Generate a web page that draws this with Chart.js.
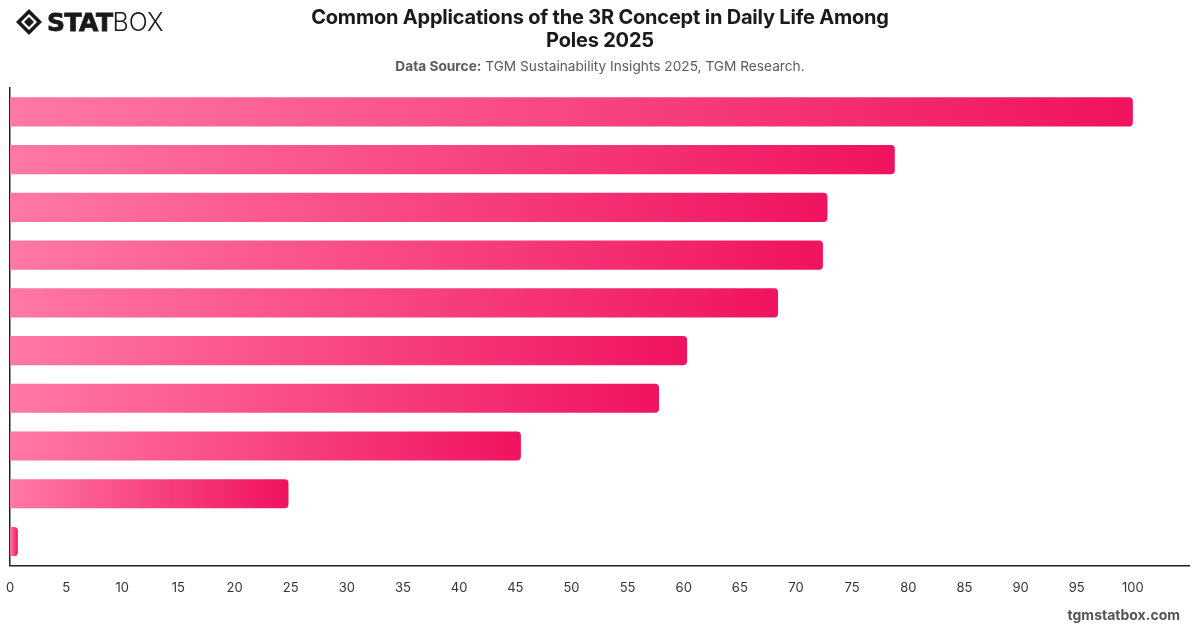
<!DOCTYPE html>
<html>
<head>
<meta charset="utf-8">
<script src="https://cdn.jsdelivr.net/npm/chart.js@4.4.1/dist/chart.umd.min.js"></script>
<style>
  html, body { margin:0; padding:0; background:#fff; }
  #wrap { position:relative; width:1200px; height:628px; overflow:hidden; font-family:"Inter","Liberation Sans",sans-serif; }
  #c { position:absolute; left:0; top:0; }
  .title { position:absolute; left:250px; width:700px; top:6px; text-align:center; font-weight:700; font-size:20px; line-height:23px; color:#1a1a1a; letter-spacing:-0.2px; }
  .sub { position:absolute; left:0; width:1200px; top:58px; text-align:center; font-size:13.7px; color:#5a5a66; }
  .sub b { font-weight:700; }
  .logo { position:absolute; left:15px; top:8px; height:28px; display:flex; align-items:center; }
  .logo .s { font-family:"DejaVu Sans","Inter",sans-serif; font-weight:900; font-size:25px; color:#1a1a1a; letter-spacing:-0.5px; margin-left:4px; -webkit-text-stroke:0.8px #1a1a1a; }
  .logo .b { font-family:"Inter","Liberation Sans",sans-serif; font-weight:300; font-size:25px; color:#1a1a1a; letter-spacing:0px; }
  .foot { position:absolute; right:20px; top:606px; font-size:14px; font-weight:700; color:#555; }
</style>
</head>
<body>
<div id="wrap">
  <canvas id="c" width="1200" height="628"></canvas>
  <div class="logo">
    <svg width="28" height="28" viewBox="0 0 28 28">
      <polygon points="14,1 27,14 14,27 1,14" fill="#1a1a1a"/>
      <polygon points="14,6 22,14 14,22 6,14" fill="#fff"/>
      <polygon points="14,9 19,14 14,19 9,14" fill="#1a1a1a"/>
    </svg>
    <span class="s">STAT</span><span class="b">BOX</span>
  </div>
  <div class="title">Common Applications of the 3R Concept in Daily Life Among<br>Poles 2025</div>
  <div class="sub"><b>Data Source:</b> TGM Sustainability Insights 2025, TGM Research.</div>
  <div class="foot">tgmstatbox.com</div>
</div>
<script>
const categories = [
  "Segregating waste",
  "Reusing shopping bags",
  "Buying products in larger packages",
  "Repairing items instead of replacing",
  "Donating unused items",
  "Buying second-hand products",
  "Reducing food waste",
  "Using refillable containers",
  "Composting organic waste",
  "Other"
];
const values = [100, 78.8, 72.8, 72.4, 68.4, 60.3, 57.8, 45.5, 24.8, 0.7];
const tickLabels = [0,5,10,15,20,25,30,35,40,45,50,55,60,65,70,75,80,85,90,95,100];

function barGradient(ctx) {
  const chart = ctx.chart;
  const area = chart.chartArea;
  if (!area || ctx.raw === undefined) return '#f71a64';
  const xEnd = chart.scales.x.getPixelForValue(ctx.raw);
  const g = chart.ctx.createLinearGradient(area.left, 0, Math.max(xEnd, area.left + 1), 0);
  g.addColorStop(0, '#ff78a5');
  g.addColorStop(1, '#f0135f');
  return g;
}

new Chart(document.getElementById('c'), {
  type: 'bar',
  data: {
    labels: categories,
    datasets: [{
      data: values,
      backgroundColor: barGradient,
      borderRadius: { topRight: 4, bottomRight: 4, topLeft: 0, bottomLeft: 0 },
      borderSkipped: 'start',
      categoryPercentage: 0.61,
      barPercentage: 1.0
    }]
  },
  options: {
    indexAxis: 'y',
    responsive: false,
    animation: false,
    devicePixelRatio: 1,
    layout: { padding: { left: 10, right: 11, top: 88, bottom: 17 } },
    plugins: { legend: { display: false }, tooltip: { enabled: false }, title: { display: false } },
    scales: {
      x: {
        min: 0, max: 105,
        afterBuildTicks: (s) => { s.ticks = tickLabels.map(v => ({ value: v })); },
        afterFit: (s) => { s.paddingLeft = 0; s.paddingRight = 0; },
        grid: { display: false, drawTicks: false },
        border: { display: true, color: '#222', width: 1.5 },
        ticks: { padding: 15, color: '#333', font: { family: 'Inter', size: 13 }, autoSkip: false, maxRotation: 0 }
      },
      y: {
        afterFit: (s) => { s.width = 0; },
        grid: { display: false, drawTicks: false },
        border: { display: true, color: '#222', width: 1.5 },
        ticks: { display: false }
      }
    }
  }
});
</script>
</body>
</html>
